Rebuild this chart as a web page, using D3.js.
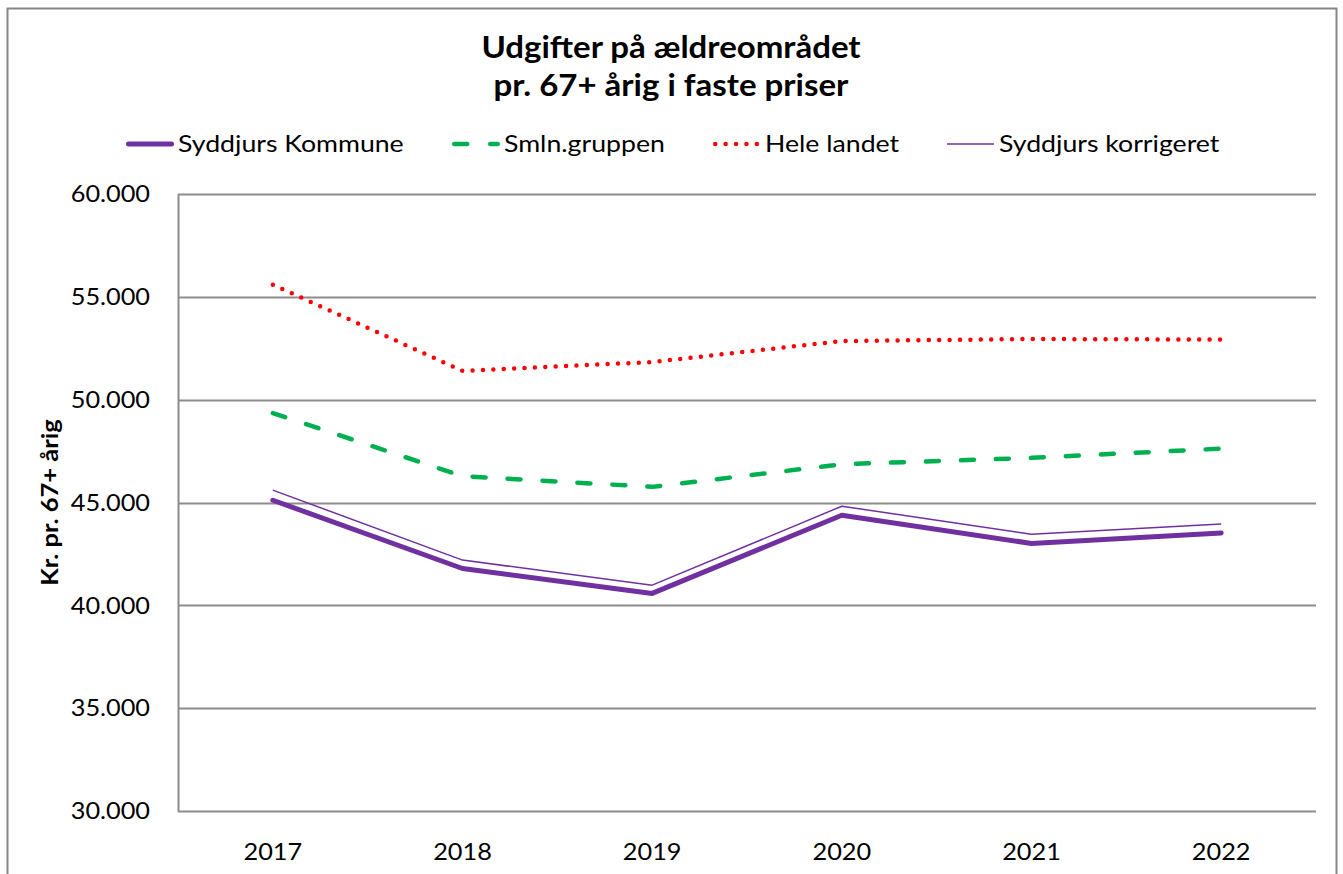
<!DOCTYPE html>
<html>
<head>
<meta charset="utf-8">
<script src="https://cdn.jsdelivr.net/npm/d3@7"></script>
<style>
  body { margin: 0; background: #fff; }
  text { font-family: Lato, "Open Sans", sans-serif; fill: #000; }
</style>
</head>
<body>
<div id="chart"></div>
<script>
(function(){

    const width = 1343;
    const height = 874;

    // data
    const years = ['2017', '2018', '2019', '2020', '2021', '2022'];
    const syddjurs   = [45110, 41790, 40580, 44380, 43010, 43520];
    const smln       = [49350, 46280, 45760, 46860, 47170, 47620];
    const heleLandet = [55590, 51400, 51830, 52850, 52950, 52920];
    const korrigeret = [45600, 42200, 40980, 44820, 43460, 43950];
    const yTicks = [30000, 35000, 40000, 45000, 50000, 55000, 60000];

    const series = [
        {name: 'Syddjurs Kommune', values: syddjurs, color: '#7030a0', w: 5, dash: null, cap: 'round', legX: 126},
        {name: 'Smln.gruppen', values: smln, color: '#00b050', w: 4.5, dash: '13,22', cap: 'round', legX: 452},
        {name: 'Hele landet', values: heleLandet, color: '#ff0000', w: 4.5, dash: '0,10.4', cap: 'round', legX: 713},
        {name: 'Syddjurs korrigeret', values: korrigeret, color: '#7030a0', w: 1.5, dash: null, cap: 'butt', legX: 947}
    ];

    const margin = {left: 178, right: 27, top: 194, bottom: 63};

    // the reference text is a little wider than Lato, stretch it horizontally
    const stretch = 1.1;

    const svg = d3.select('#chart')
        .append('svg')
        .attr('width', width)
        .attr('height', height);

    // outer frame
    svg.append('rect')
        .attr('x', 7.5).attr('y', 8.5)
        .attr('width', 1329).attr('height', 880)
        .attr('fill', 'none')
        .attr('stroke', '#868686')
        .attr('stroke-width', 2);

    const x = d3.scaleBand()
        .domain(years)
        .range([margin.left, width - margin.right]);

    const y = d3.scaleLinear()
        .domain([30000, 60000])
        .range([height - margin.bottom, margin.top]);

    const fmt = d => d3.format(',')(d).replace(/,/g, '.');

    // gridlines
    svg.append('g')
        .selectAll('line')
        .data(yTicks)
        .enter().append('line')
        .attr('x1', margin.left)
        .attr('x2', x.range()[1])
        .attr('y1', d => Math.round(y(d)) + 0.5)
        .attr('y2', d => Math.round(y(d)) + 0.5)
        .attr('stroke', '#8c8c8c')
        .attr('stroke-width', 2);

    // y axis line
    svg.append('line')
        .attr('x1', margin.left + 0.5).attr('x2', margin.left + 0.5)
        .attr('y1', y(60000)).attr('y2', y(30000) + 1)
        .attr('stroke', '#8c8c8c')
        .attr('stroke-width', 2);

    // y tick labels
    svg.append('g')
        .selectAll('text')
        .data(yTicks)
        .enter().append('text')
        .attr('transform', d => `translate(150,${y(d)}) scale(${stretch},1)`)
        .attr('dy', '0.36em')
        .attr('text-anchor', 'end')
        .style('font-size', '23px')
        .text(fmt);

    // x labels
    svg.append('g')
        .selectAll('text')
        .data(years)
        .enter().append('text')
        .attr('transform', d => `translate(${x(d) + x.bandwidth() / 2},852) scale(${stretch},1)`)
        .attr('dy', '0.36em')
        .attr('text-anchor', 'middle')
        .style('font-size', '23px')
        .text(d => d);

    // y axis title
    svg.append('text')
        .attr('transform', `translate(50,${(y(30000) + y(60000)) / 2}) rotate(-90) scale(1.16,1)`)
        .attr('text-anchor', 'middle')
        .attr('dy', '0.36em')
        .style('font-size', '22px')
        .style('font-weight', 'bold')
        .text('Kr. pr. 67+ årig');

    // title
    const titleLines = ['Udgifter på ældreområdet', 'pr. 67+ årig i faste priser'];
    svg.append('g')
        .selectAll('text')
        .data(titleLines)
        .enter().append('text')
        .attr('transform', (d, i) => `translate(671,${58 + i * 38}) scale(${stretch},1)`)
        .attr('text-anchor', 'middle')
        .style('font-size', '30px')
        .style('font-weight', 'bold')
        .text(d => d);

    const line = d3.line()
        .x((d, i) => x(years[i]) + x.bandwidth() / 2)
        .y(d => y(d));

    svg.append('g')
        .selectAll('path')
        .data(series)
        .enter().append('path')
        .attr('d', d => line(d.values))
        .attr('fill', 'none')
        .attr('stroke', d => d.color)
        .attr('stroke-width', d => d.w)
        .attr('stroke-dasharray', d => d.dash)
        .attr('stroke-linecap', d => d.cap)
        .attr('stroke-linejoin', 'round');

    // legend
    const leg = svg.append('g')
        .selectAll('g')
        .data(series)
        .enter().append('g')
        .attr('transform', d => `translate(${d.legX},144)`);

    leg.append('line')
        .attr('x1', d => d.cap === 'round' ? d.w / 2 : 0)
        .attr('x2', d => d.cap === 'round' ? 48 - d.w / 2 : 47)
        .attr('stroke', d => d.color)
        .attr('stroke-width', d => d.w)
        .attr('stroke-dasharray', d => d.dash ? (d.dash === '13,22' ? '13,23' : d.dash) : null)
        .attr('stroke-linecap', d => d.cap);

    leg.append('text')
        .attr('transform', `translate(52,0) scale(1.16,1)`)
        .attr('dy', '0.36em')
        .style('font-size', '23px')
        .text(d => d.name);

}());
</script>
</body>
</html>
